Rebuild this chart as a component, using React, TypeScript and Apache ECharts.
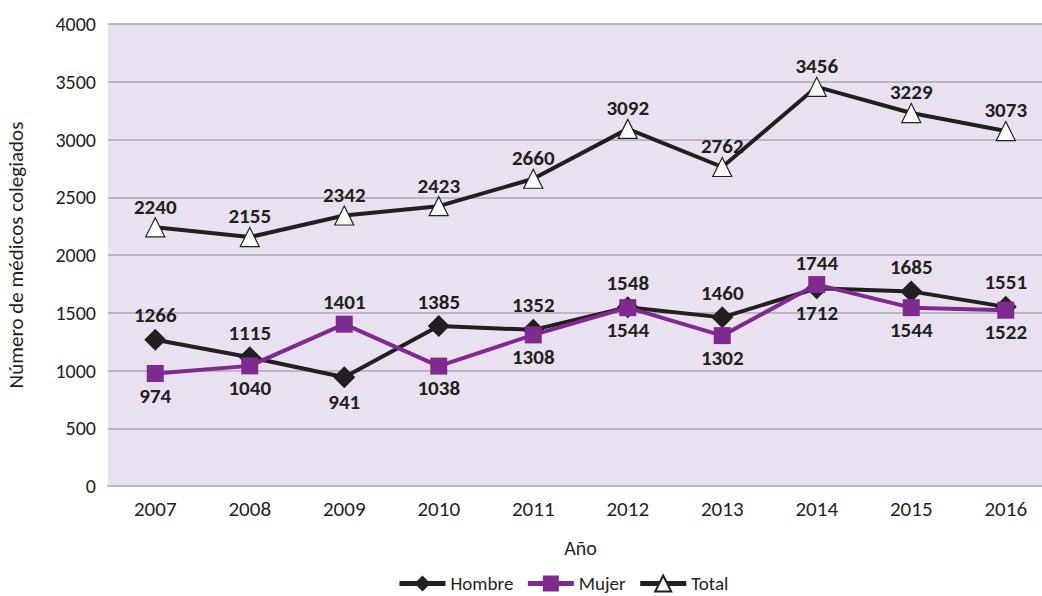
import React, { useEffect, useRef } from "react";
import * as echarts from "echarts";

const years = ["2007", "2008", "2009", "2010", "2011", "2012", "2013", "2014", "2015", "2016"];
const hombre = [1266, 1115, 941, 1385, 1352, 1548, 1460, 1712, 1685, 1551];
const mujer = [974, 1040, 1401, 1038, 1308, 1544, 1302, 1744, 1544, 1522];
const total = [2240, 2155, 2342, 2423, 2660, 3092, 2762, 3456, 3229, 3073];
const hombreBelow = [false, false, true, false, false, false, false, true, false, false];
const mujerBelow = [true, true, false, true, true, true, true, false, true, true];

const FONT = "Carlito, Lato, 'Open Sans', sans-serif";
const DARK = "#231F20";
const PURPLE = "#7E2A8E";

export default function App() {
  const ref = useRef<HTMLDivElement>(null);
  useEffect(() => {
    document.body.style.margin = "0";
    const chart = echarts.init(ref.current!, null, { renderer: "svg" });
    const lbl = {
      show: true,
      fontFamily: FONT,
      fontWeight: "bold" as const,
      fontSize: 21,
      color: DARK,
      distance: 3,
    };
    const mk = (vals: number[], below: boolean[]) =>
      vals.map((v, i) => ({ value: v, label: { position: below[i] ? "bottom" : "top" } }));
    chart.setOption({
      animation: false,
      textStyle: { fontFamily: FONT },
      grid: { left: 108, top: 24, width: 945, height: 462, outerBoundsMode: "none", containLabel: false },
      legend: {
        top: 569,
        left: 392,
        itemWidth: 46,
        itemHeight: 20,
        itemGap: 12,
        lineStyle: { width: 5 },
        textStyle: { fontFamily: FONT, fontSize: 19, color: DARK },
        data: ["Hombre", "Mujer", "Total"],
      },
      xAxis: {
        type: "category",
        data: years,
        name: "Año",
        nameLocation: "middle",
        nameGap: 52,
        nameTextStyle: { fontFamily: FONT, fontSize: 20, color: DARK },
        axisLine: { lineStyle: { color: "#BDB5C5", width: 2 } },
        axisTick: { show: false },
        axisLabel: { fontFamily: FONT, fontSize: 21, color: DARK, margin: 12 },
      },
      yAxis: {
        type: "value",
        min: 0,
        max: 4000,
        interval: 500,
        name: "Número de médicos colegiados",
        nameLocation: "middle",
        nameGap: 82,
        nameTextStyle: { fontFamily: FONT, fontSize: 21, color: DARK },
        axisLine: { show: false },
        axisTick: { show: false },
        axisLabel: {
          fontFamily: FONT,
          fontSize: 20,
          color: DARK,
          margin: 12,
          formatter: (v: number) => String(v),
        },
        splitLine: { lineStyle: { color: "#BDB5C5", width: 2 } },
        splitArea: { show: true, areaStyle: { color: ["#E9E1EF", "#E9E1EF"] } },
      },
      series: [
        {
          name: "Hombre",
          type: "line",
          data: mk(hombre, hombreBelow),
          symbol: "diamond",
          symbolSize: 22,
          lineStyle: { color: DARK, width: 4 },
          itemStyle: { color: DARK },
          label: lbl,
          z: 3,
        },
        {
          name: "Mujer",
          type: "line",
          data: mk(mujer, mujerBelow),
          symbol: "rect",
          symbolSize: 17,
          lineStyle: { color: PURPLE, width: 4 },
          itemStyle: { color: PURPLE },
          label: lbl,
          z: 4,
        },
        {
          name: "Total",
          type: "line",
          data: total,
          symbol: "triangle",
          symbolSize: 19,
          lineStyle: { color: DARK, width: 4 },
          itemStyle: { color: "#FFFFFF", borderColor: DARK, borderWidth: 1.2 },
          label: { ...lbl, position: "top", distance: 0 },
          z: 5,
        },
      ],
    });
    return () => chart.dispose();
  }, []);
  return <div ref={ref} style={{ width: 1042, height: 596 }} />;
}
